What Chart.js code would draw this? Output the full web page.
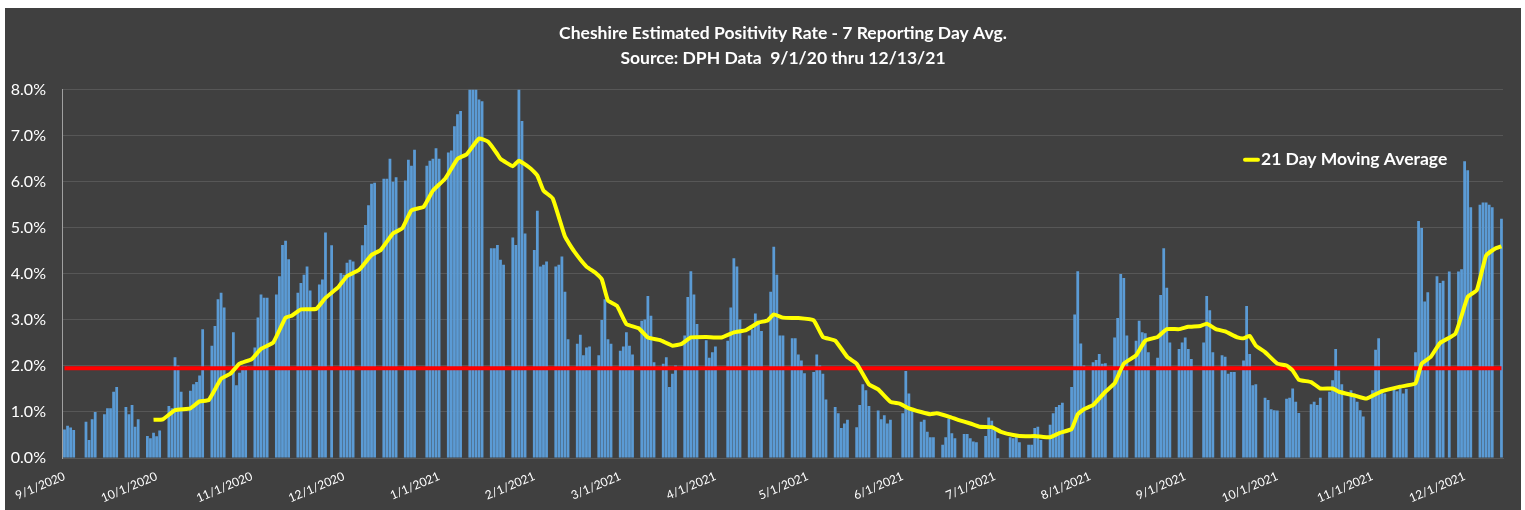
<!DOCTYPE html>
<html>
<head>
<meta charset="utf-8">
<script src="https://cdn.jsdelivr.net/npm/chart.js@4.4.0/dist/chart.umd.min.js"></script>
<style>
  html, body { margin: 0; padding: 0; background: #ffffff; }
  #wrap { position: absolute; left: 5px; top: 8px; width: 1516px; height: 502px; background: #404040; }
</style>
</head>
<body>
<div id="wrap"><canvas id="chart"></canvas></div>
<script>
// weekday positivity values (%), one per weekday of each month, null = no report
const sep2020 = [0.62, 0.70, 0.66, 0.61,  null, 0.79, 0.39, 0.84, 1.00,  0.95, 1.08, 1.08, 1.44, 1.54,  1.11, 0.95, 1.15, 0.68, 0.84,  0.48, 0.43, 0.55];
const oct2020 = [0.47, 0.60,  1.13, 1.08, 2.19, 2.01, 1.44,  1.46, 1.60, 1.65, 1.79, 2.80,  2.44, 2.87, 3.45, 3.59, 3.27,  2.73, 1.58, 1.85, 2.00, 2.00];
const nov2020 = [2.40, 3.05, 3.55, 3.48, 3.48,  3.55, 3.95, 4.63, 4.72, 4.32,  3.59, 3.80, 3.98, 4.16, 3.64,  3.77, 3.88, 4.90, null, 4.62,  4.02];
const dec2020 = [3.98, 4.24, 4.31, 4.27,  4.62, 5.06, 5.49, 5.96, 5.98,  6.07, 6.07, 6.50, 6.00, 6.10,  6.03, 6.48, 6.35, 6.70, null,  6.35, 6.46, 6.50, 6.73];
const jan2021 = [6.50,  6.64, 6.68, 7.21, 7.47, 7.54,  8.30, 8.30, 8.30, 7.79, 7.75,  4.56, 4.56, 4.63, 4.31, 4.20,  4.79, 4.63, 8.30, 7.32, 4.88];
const feb2021 = [4.52, 5.37, 4.16, 4.20, 4.27,  4.16, 4.20, 4.38, 3.61, 2.58,  2.48, 2.68, 2.23, 2.40, 2.42,  2.23, 3.00, 3.45, 2.58, 2.48];
const mar2021 = [2.33, 2.42, 2.73, 2.44, 2.25,  2.98, 3.01, 3.52, 3.09, 2.08,  2.05, 2.19, 1.54, 1.83, 2.01,  2.66, 3.50, 4.06, 3.55, 2.91,  2.56, 2.18, 2.30];
const apr2021 = [2.42, null,  2.55, 3.27, 4.34, 4.16, 3.01,  2.66, 2.80, 3.14, 2.98, 2.76,  3.61, 4.59, 3.98, 2.66, 2.66,  2.60, 2.60, 2.25, 2.12, 1.84];
const may2021 = [1.87, 2.25, 2.01, 1.83, 1.27,  1.11, 0.97, 0.65, 0.75, 0.83,  0.67, 1.15, 1.60, 1.47, 1.13,  1.03, 0.84, 0.93, 0.75, 0.83,  null];
const jun2021 = [0.97, 1.89, 1.40, 1.05,  0.79, 0.83, 0.57, 0.45, 0.45,  0.29, 0.45, 0.86, 0.54, 0.43,  0.52, 0.52, 0.43, 0.36, 0.34,  0.48, 0.88, 0.81];
const jul2021 = [0.61, 0.43,  null, 0.45, 0.43, 0.50, 0.34,  0.29, 0.29, 0.65, 0.68, 0.39,  0.72, 0.97, 1.11, 1.15, 1.20,  1.54, 3.12, 4.06, 2.49, 2.01];
const aug2021 = [2.08, 2.13, 2.26, 2.05, 2.06,  2.62, 3.04, 4.00, 3.91, 2.66,  2.55, 2.98, 2.73, 2.71, 2.30,  2.18, 3.54, 4.56, 3.70, 2.51,  2.37, 2.51];
const sep2021 = [2.62, 2.37, 2.15,  null, 2.51, 3.52, 3.21, 2.30,  2.23, 2.20, 1.83, 1.87, 1.87,  2.12, 3.30, 2.26, 1.58, 1.60,  1.31, 1.26, 1.06, 1.04];
const oct2021 = [1.03,  1.29, 1.31, 1.51, 1.22, 0.98,  null, 1.17, 1.22, 1.15, 1.31,  1.44, 1.69, 2.37, 1.90, 1.60,  1.47, 1.40, 1.22, 1.04, 0.90];
const nov2021 = [1.47, 2.35, 2.60, 1.50, 1.40,  1.50, 1.45, 1.55, 1.40, 1.50,  2.30, 5.15, 5.00, 3.40, 3.60,  3.95, 3.80, 3.85, null, 4.05,  4.05, 4.10];
const dec2021 = [6.45, 6.25, 5.45,  5.50, 5.55, 5.55, 5.50, 5.45,  5.20];

// 21 day moving average, read at these dates
const maDates = ['9/30/2020','10/3/2020','10/7/2020','10/12/2020','10/15/2020','10/18/2020','10/22/2020','10/25/2020','10/28/2020',
  '11/1/2020','11/4/2020','11/8/2020','11/12/2020','11/14/2020','11/17/2020','11/22/2020','11/25/2020','11/29/2020',
  '12/2/2020','12/6/2020','12/10/2020','12/13/2020','12/17/2020','12/20/2020','12/23/2020','12/27/2020','12/30/2020',
  '1/3/2021','1/7/2021','1/10/2021','1/14/2021','1/17/2021','1/20/2021','1/21/2021','1/25/2021','1/27/2021','1/31/2021',
  '2/2/2021','2/4/2021','2/7/2021','2/11/2021','2/14/2021','2/18/2021','2/21/2021','2/23/2021','2/25/2021','2/28/2021',
  '3/3/2021','3/7/2021','3/10/2021','3/14/2021','3/18/2021','3/21/2021','3/24/2021','3/29/2021',
  '4/3/2021','4/7/2021','4/11/2021','4/15/2021','4/18/2021','4/20/2021','4/23/2021','4/28/2021',
  '5/3/2021','5/6/2021','5/10/2021','5/14/2021','5/17/2021','5/21/2021','5/24/2021','5/28/2021','5/31/2021',
  '6/3/2021','6/7/2021','6/10/2021','6/12/2021','6/16/2021','6/19/2021','6/23/2021','6/26/2021','6/30/2021',
  '7/3/2021','7/7/2021','7/11/2021','7/14/2021','7/19/2021','7/22/2021','7/26/2021','7/28/2021','7/30/2021',
  '8/2/2021','8/6/2021','8/9/2021','8/12/2021','8/16/2021','8/19/2021','8/23/2021','8/26/2021','8/30/2021',
  '9/2/2021','9/6/2021','9/8/2021','9/11/2021','9/14/2021','9/18/2021','9/20/2021','9/22/2021','9/24/2021','9/27/2021',
  '10/1/2021','10/4/2021','10/6/2021','10/8/2021','10/12/2021','10/15/2021','10/19/2021','10/21/2021','10/26/2021','10/30/2021',
  '11/4/2021','11/10/2021','11/15/2021','11/17/2021','11/20/2021','11/23/2021','11/28/2021',
  '12/2/2021','12/5/2021','12/8/2021','12/11/2021','12/13/2021'];
const maValues = [0.83, 0.84, 1.04, 1.08, 1.23, 1.26, 1.72, 1.83, 2.05,
  2.15, 2.37, 2.51, 3.05, 3.09, 3.23, 3.24, 3.48, 3.70,
  3.95, 4.09, 4.41, 4.52, 4.88, 4.99, 5.38, 5.46, 5.81,
  6.07, 6.50, 6.60, 6.94, 6.87, 6.60, 6.50, 6.34, 6.46, 6.28,
  6.14, 5.81, 5.64, 4.81, 4.49, 4.16, 4.02, 3.88, 3.42, 3.30,
  2.91, 2.82, 2.62, 2.56, 2.44, 2.48, 2.62, 2.63,
  2.62, 2.73, 2.78, 2.94, 2.99, 3.12, 3.05, 3.04,
  2.99, 2.63, 2.55, 2.19, 2.05, 1.60, 1.49, 1.22, 1.18,
  1.08, 1.00, 0.95, 0.97, 0.90, 0.83, 0.75, 0.68, 0.67,
  0.57, 0.50, 0.47, 0.48, 0.45, 0.54, 0.63, 0.95, 1.06,
  1.15, 1.44, 1.62, 2.05, 2.23, 2.55, 2.63, 2.80, 2.80,
  2.85, 2.87, 2.92, 2.80, 2.75, 2.62, 2.60, 2.65, 2.44, 2.30,
  2.05, 2.01, 1.90, 1.70, 1.65, 1.51, 1.51, 1.44, 1.36, 1.29,
  1.45, 1.55, 1.62, 2.05, 2.20, 2.50, 2.70,
  3.50, 3.65, 4.40, 4.55, 4.60];

const goalRate = 1.95;
const yTicks = [0, 1, 2, 3, 4, 5, 6, 7, 8];
const titleLines = ['Cheshire Estimated Positivity Rate - 7 Reporting Day Avg.', 'Source: DPH Data  9/1/20 thru 12/13/21'];
const maLabel = '21 Day Moving Average';

const months = {
  '2020-9': sep2020, '2020-10': oct2020, '2020-11': nov2020, '2020-12': dec2020,
  '2021-1': jan2021, '2021-2': feb2021, '2021-3': mar2021, '2021-4': apr2021,
  '2021-5': may2021, '2021-6': jun2021, '2021-7': jul2021, '2021-8': aug2021,
  '2021-9': sep2021, '2021-10': oct2021, '2021-11': nov2021, '2021-12': dec2021
};

// one category per calendar day, weekends stay empty
const labels = [];
const rates = [];
const counters = {};
for (let d = new Date(2020, 8, 1); d <= new Date(2021, 11, 13); d.setDate(d.getDate() + 1)) {
  const key = d.getFullYear() + '-' + (d.getMonth() + 1);
  labels.push((d.getMonth() + 1) + '/' + d.getDate() + '/' + d.getFullYear());
  const wd = d.getDay();
  if (wd === 0 || wd === 6) { rates.push(null); continue; }
  counters[key] = (counters[key] || 0);
  const arr = months[key];
  rates.push(arr && counters[key] < arr.length ? arr[counters[key]] : null);
  counters[key]++;
}

const maData = maDates.map((dt, i) => ({ x: dt, y: maValues[i] }));
const goalData = [{ x: labels[0], y: goalRate }, { x: labels[labels.length - 1], y: goalRate }];

const legendInside = {
  id: 'legendInside',
  afterDatasetsDraw(chart) {
    const { ctx, chartArea } = chart;
    const x = chartArea.right - 258, y = chartArea.top + 70;
    ctx.save();
    ctx.strokeStyle = '#ffff00';
    ctx.lineWidth = 4;
    ctx.lineCap = 'round';
    ctx.beginPath();
    ctx.moveTo(x, y);
    ctx.lineTo(x + 13, y);
    ctx.stroke();
    ctx.fillStyle = '#ffffff';
    ctx.font = 'bold 17.5px Lato';
    ctx.textBaseline = 'middle';
    ctx.fillText(maLabel, x + 16, y);
    ctx.restore();
  }
};

new Chart(document.getElementById('chart'), {
  data: {
    labels: labels,
    datasets: [
      { type: 'line', label: maLabel, data: maData, borderColor: '#ffff00', borderWidth: 4,
        pointRadius: 0, spanGaps: true, tension: 0.12, borderJoinStyle: 'round', order: 1 },
      { type: 'line', label: 'Goal', data: goalData, borderColor: '#ff0000', borderWidth: 4,
        pointRadius: 0, spanGaps: true, order: 2 },
      { type: 'bar', label: 'Positivity', data: rates, backgroundColor: '#5b9bd5',
        barPercentage: 0.9, categoryPercentage: 1.0, order: 3 }
    ]
  },
  options: {
    responsive: true,
    maintainAspectRatio: false,
    animation: false,
    layout: { padding: { right: 18, top: 0 } },
    plugins: {
      legend: { display: false },
      tooltip: { enabled: false },
      title: {
        display: true, text: titleLines, color: '#ffffff', fullSize: false,
        font: { family: 'Lato', size: 17.5, weight: 'bold', lineHeight: 1.48 },
        padding: { top: 12, bottom: 18 }
      }
    },
    scales: {
      x: {
        type: 'category',
        offset: true,
        grid: { display: false, drawTicks: false },
        border: { display: true, color: '#595959' },
        ticks: {
          autoSkip: false, maxRotation: 23, minRotation: 23, padding: 11,
          color: '#ffffff', font: { family: 'Lato', size: 12 },
          callback: function (v, i) { const l = labels[i]; return l.split('/')[1] === '1' ? l : null; }
        },
        afterFit: (s) => { s.height = 52; }
      },
      y: {
        min: 0, max: 8,
        afterBuildTicks: (s) => { s.ticks = yTicks.map(v => ({ value: v })); },
        grid: { color: '#575757', drawTicks: false },
        border: { display: true, color: '#a0a0a0', width: 1 },
        ticks: {
          padding: 17, color: '#ffffff', font: { family: 'Lato', size: 16 },
          callback: (v) => v.toFixed(1) + '%'
        },
        afterFit: (s) => { s.width = 57; }
      }
    }
  },
  plugins: [legendInside]
});
</script>
</body>
</html>
